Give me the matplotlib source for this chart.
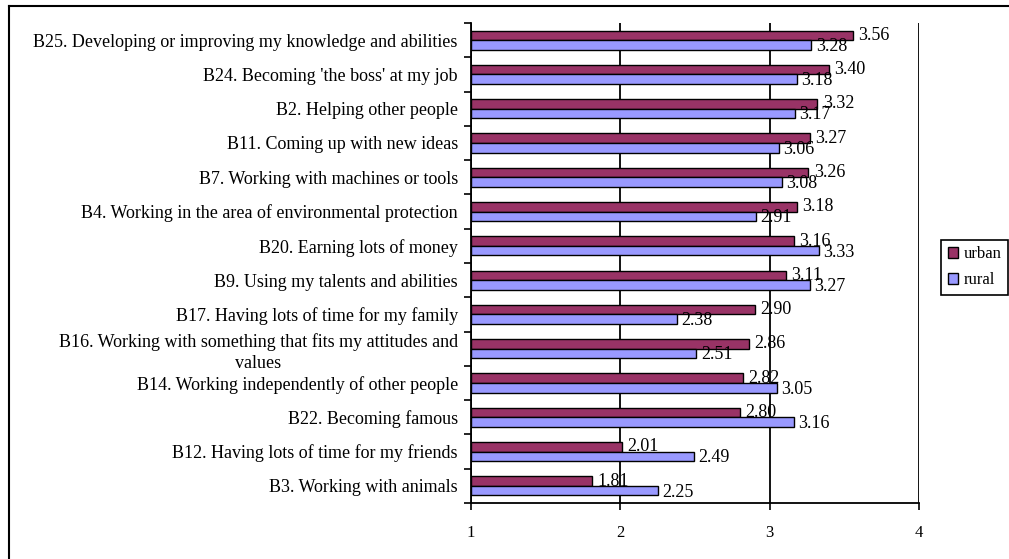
import matplotlib.pyplot as plt
from matplotlib.lines import Line2D
from matplotlib.patches import Patch
import numpy as np

plt.rcParams['font.family'] = ['Liberation Serif', 'DejaVu Serif']

# survey items, listed top to bottom
items = ["B25. Developing or improving my knowledge and abilities",
         "B24. Becoming 'the boss' at my job",
         "B2. Helping other people",
         "B11. Coming up with new ideas",
         "B7. Working with machines or tools",
         "B4. Working in the area of environmental protection",
         "B20. Earning lots of money",
         "B9. Using my talents and abilities",
         "B17. Having lots of time for my family",
         "B16. Working with something that fits my attitudes and\nvalues",
         "B14. Working independently of other people",
         "B22. Becoming famous",
         "B12. Having lots of time for my friends",
         "B3. Working with animals"]
urban = [3.56, 3.40, 3.32, 3.27, 3.26, 3.18, 3.16, 3.11, 2.90, 2.86, 2.82, 2.80, 2.01, 1.81]
rural = [3.28, 3.18, 3.17, 3.06, 3.08, 2.91, 3.33, 3.27, 2.38, 2.51, 3.05, 3.16, 2.49, 2.25]
xticks = [1, 2, 3, 4]

c_urban = '#993366'
c_rural = '#9999FF'
fs = 13

fig = plt.figure(figsize=(10.09, 5.59), dpi=100)
ax = fig.add_axes([0.4668, 0.1002, 0.444, 0.8587])

n = len(items)
y = np.arange(n)[::-1].astype(float)
h = 0.28
base = 1.0

ax.barh(y + h / 2, np.array(urban) - base, left=base, height=h,
        color=c_urban, edgecolor='black', linewidth=1, zorder=3)
ax.barh(y - h / 2, np.array(rural) - base, left=base, height=h,
        color=c_rural, edgecolor='black', linewidth=1, zorder=3)

for yi, u, r in zip(y, urban, rural):
    ax.text(u + 0.035, yi + h / 2, f"{u:.2f}", va='center', ha='left', fontsize=fs, zorder=4)
    ax.text(r + 0.03, yi - h / 2 - 0.04, f"{r:.2f}", va='center', ha='left', fontsize=fs, zorder=4)

ax.set_xlim(1, 4)
ax.set_ylim(-0.5, n - 0.5)
ax.set_xticks(xticks)
ax.set_xticklabels([str(t) for t in xticks], fontsize=12)
ax.set_yticks(y)
ax.set_yticklabels(items, fontsize=fs, multialignment='center', linespacing=1.3)
ax.set_yticks(np.arange(n + 1) - 0.5, minor=True)
ax.tick_params(axis='y', which='major', length=0, pad=9.5)
ax.tick_params(axis='y', which='minor', length=5, width=1.2, direction='out', color='black')
ax.tick_params(axis='x', which='major', length=5, width=1.2, direction='out', pad=11)

ax.grid(axis='x', color='black', linewidth=1.3, zorder=0)
ax.set_axisbelow(True)
for side in ['top', 'right']:
    ax.spines[side].set_visible(False)
for side in ['left', 'bottom']:
    ax.spines[side].set_linewidth(1.3)
    ax.spines[side].set_zorder(5)

handles = [Patch(facecolor=c_urban, edgecolor='black', label='urban'),
           Patch(facecolor=c_rural, edgecolor='black', label='rural')]
leg = fig.legend(handles=handles, loc='center', bbox_to_anchor=(0.966, 0.522),
                 fontsize=12, fancybox=False, framealpha=1, edgecolor='black',
                 handlelength=0.6, handleheight=0.6, handletextpad=0.35,
                 borderpad=0.4, labelspacing=0.6, borderaxespad=0)
leg.get_frame().set_linewidth(1.2)

# chart area frame (left and top edges)
W, H = 1009, 559
fig.add_artist(Line2D([9 / W, 9 / W], [0, 1 - 6 / H], color='black', linewidth=1.5))
fig.add_artist(Line2D([9 / W, 1], [1 - 6 / H, 1 - 6 / H], color='black', linewidth=1.5))

fig.savefig('out.png', dpi=100)
